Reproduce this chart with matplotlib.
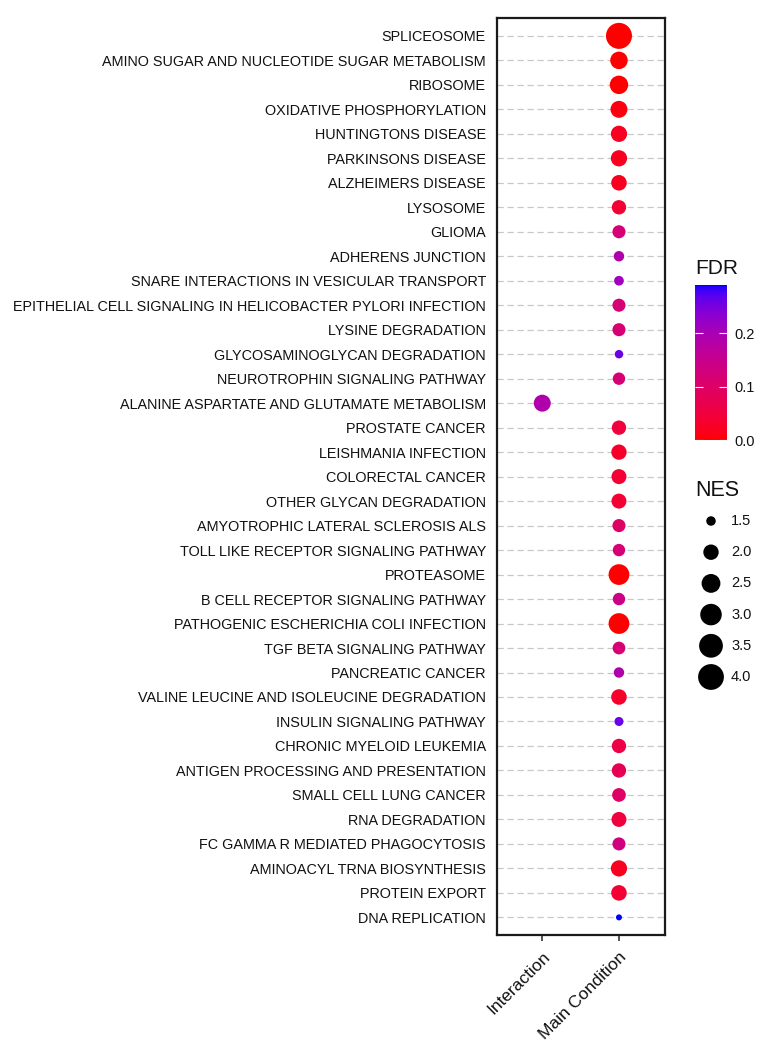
import numpy as np
import matplotlib
matplotlib.use("Agg")
import matplotlib.pyplot as plt
from matplotlib.colors import ListedColormap, Normalize
from matplotlib.cm import ScalarMappable

plt.rcParams['font.family'] = ['Liberation Sans', 'DejaVu Sans']

pathways = [
    "SPLICEOSOME", "AMINO SUGAR AND NUCLEOTIDE SUGAR METABOLISM", "RIBOSOME",
    "OXIDATIVE PHOSPHORYLATION", "HUNTINGTONS DISEASE", "PARKINSONS DISEASE",
    "ALZHEIMERS DISEASE", "LYSOSOME", "GLIOMA", "ADHERENS JUNCTION",
    "SNARE INTERACTIONS IN VESICULAR TRANSPORT",
    "EPITHELIAL CELL SIGNALING IN HELICOBACTER PYLORI INFECTION",
    "LYSINE DEGRADATION", "GLYCOSAMINOGLYCAN DEGRADATION",
    "NEUROTROPHIN SIGNALING PATHWAY", "ALANINE ASPARTATE AND GLUTAMATE METABOLISM",
    "PROSTATE CANCER", "LEISHMANIA INFECTION", "COLORECTAL CANCER",
    "OTHER GLYCAN DEGRADATION", "AMYOTROPHIC LATERAL SCLEROSIS ALS",
    "TOLL LIKE RECEPTOR SIGNALING PATHWAY", "PROTEASOME",
    "B CELL RECEPTOR SIGNALING PATHWAY", "PATHOGENIC ESCHERICHIA COLI INFECTION",
    "TGF BETA SIGNALING PATHWAY", "PANCREATIC CANCER",
    "VALINE LEUCINE AND ISOLEUCINE DEGRADATION", "INSULIN SIGNALING PATHWAY",
    "CHRONIC MYELOID LEUKEMIA", "ANTIGEN PROCESSING AND PRESENTATION",
    "SMALL CELL LUNG CANCER", "RNA DEGRADATION", "FC GAMMA R MEDIATED PHAGOCYTOSIS",
    "AMINOACYL TRNA BIOSYNTHESIS", "PROTEIN EXPORT", "DNA REPLICATION",
]
conditions = ["Interaction", "Main Condition"]
# condition of each pathway (0 = Interaction, 1 = Main Condition)
condition = [1] * 15 + [0] + [1] * 21
nes = [4.05, 2.29, 2.44, 2.21, 2.11, 2.11, 2.02, 1.88, 1.75, 1.55,
       1.51, 1.75, 1.75, 1.46, 1.69, 2.21, 1.88, 1.99, 1.95, 1.95,
       1.75, 1.69, 2.85, 1.69, 2.85, 1.72, 1.55, 2.02, 1.48, 1.88,
       1.88, 1.81, 1.95, 1.75, 2.11, 2.02, 1.42]
fdr = [0.0, 0.0, 0.0, 0.01, 0.02, 0.02, 0.02, 0.04, 0.12, 0.19,
       0.21, 0.12, 0.12, 0.26, 0.12, 0.19, 0.05, 0.03, 0.04, 0.04,
       0.10, 0.12, 0.0, 0.14, 0.0, 0.12, 0.19, 0.03, 0.26, 0.06,
       0.08, 0.10, 0.05, 0.13, 0.02, 0.04, 0.29]

nes_breaks = [1.5, 2.0, 2.5, 3.0, 3.5, 4.0]
fdr_ticks = [0.0, 0.1, 0.2]


# red -> blue gradient interpolated in Lab space (like ggplot)
def srgb_to_lab(c):
    c = np.asarray(c, float)
    lin = np.where(c <= 0.04045, c / 12.92, ((c + 0.055) / 1.055) ** 2.4)
    m = np.array([[0.4124, 0.3576, 0.1805],
                  [0.2126, 0.7152, 0.0722],
                  [0.0193, 0.1192, 0.9505]])
    xyz = m @ lin / np.array([0.95047, 1.0, 1.08883])
    f = np.where(xyz > 0.008856, np.cbrt(xyz), 7.787 * xyz + 16 / 116)
    return np.array([116 * f[1] - 16, 500 * (f[0] - f[1]), 200 * (f[1] - f[2])])


def lab_to_srgb(lab):
    L, a, b = lab
    fy = (L + 16) / 116
    fx = fy + a / 500
    fz = fy - b / 200
    f = np.array([fx, fy, fz])
    xyz = np.where(f ** 3 > 0.008856, f ** 3, (f - 16 / 116) / 7.787)
    xyz = xyz * np.array([0.95047, 1.0, 1.08883])
    m = np.array([[3.2406, -1.5372, -0.4986],
                  [-0.9689, 1.8758, 0.0415],
                  [0.0557, -0.2040, 1.0570]])
    lin = np.clip(m @ xyz, 0, 1)
    c = np.where(lin <= 0.0031308, 12.92 * lin, 1.055 * lin ** (1 / 2.4) - 0.055)
    return np.clip(c, 0, 1)


lab_lo = srgb_to_lab([1, 0, 0])
lab_hi = srgb_to_lab([0, 0, 1])
cmap = ListedColormap([lab_to_srgb(lab_lo + t * (lab_hi - lab_lo))
                       for t in np.linspace(0, 1, 256)])
norm = Normalize(vmin=min(fdr), vmax=max(fdr))


def nes_to_size(v, dmin=6.0, dmax=26.0):
    t = (np.asarray(v, float) - min(nes)) / (max(nes) - min(nes))
    d_px = dmin + (dmax - dmin) * np.sqrt(np.clip(t, 0, 1))
    return (d_px * 0.72) ** 2


W, H = 778, 1050
fig = plt.figure(figsize=(W / 100, H / 100), dpi=100)
ax = fig.add_axes([497 / W, 1 - 935 / H, 168 / W, 917 / H])

n = len(pathways)
ypos = np.arange(n)
ax.scatter(condition, ypos, s=nes_to_size(nes), c=fdr, cmap=cmap, norm=norm,
           linewidths=0, zorder=3)

ax.set_xlim(-0.59, 1.6)
ax.set_ylim(n - 1 + 0.72, -0.73)
ax.set_yticks(ypos)
ax.set_yticklabels(pathways, fontsize=10.4, color='#111111')
ax.set_xticks([0, 1])
ax.set_xticklabels(conditions, rotation=45, ha='right', va='top',
                   rotation_mode='anchor', fontsize=12.5, color='#111111')
ax.tick_params(axis='y', length=0, pad=8)
ax.tick_params(axis='x', length=4, width=1.3, color='#444444', pad=6)
ax.yaxis.grid(True, color='#c8c8c8', linestyle=(0, (5, 3)), linewidth=0.9)
ax.set_axisbelow(True)
for sp in ax.spines.values():
    sp.set_linewidth(1.6)
    sp.set_color('#1a1a1a')

# FDR colour bar
cax = fig.add_axes([695 / W, 1 - 440 / H, 32 / W, 155 / H])
cb = fig.colorbar(ScalarMappable(norm=norm, cmap=cmap), cax=cax, ticks=fdr_ticks)
cb.outline.set_visible(False)
cb.ax.set_yticklabels([f"{t:.1f}" for t in fdr_ticks], fontsize=10.5, color='#111111')
cb.ax.tick_params(direction='in', color='white', length=6, width=0.8,
                  left=True, right=True, pad=5)
fig.text(695 / W, 1 - 268 / H, "FDR", fontsize=15, va='center', ha='left',
         color='#111111')

# NES size legend
lax = fig.add_axes([690 / W, 1 - 690 / H, 80 / W, 185 / H])
lax.set_xlim(0, 80)
lax.set_ylim(5.417, -0.513)
lax.axis('off')
lidx = np.arange(len(nes_breaks))
lax.scatter(np.full(len(nes_breaks), 21), lidx, s=nes_to_size(nes_breaks),
            color='black', linewidths=0)
for i, b in enumerate(nes_breaks):
    lax.text(41, i, f"{b:.1f}", fontsize=10.5, va='center', ha='left', color='#111111')
fig.text(695 / W, 1 - 491 / H, "NES", fontsize=15.5, va='center', ha='left',
         color='#111111')

fig.savefig("out.png", dpi=100)
